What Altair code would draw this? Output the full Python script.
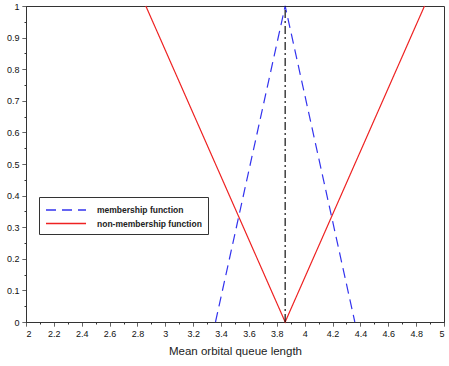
import altair as alt
import pandas as pd

# Data
memb_x = [3.36, 3.86, 4.36]
memb_y = [0.0, 1.0, 0.0]
nonmemb_x = [2.86, 3.86, 4.86]
nonmemb_y = [1.0, 0.0, 1.0]
vline_x = [3.86, 3.86]
vline_y = [0.0, 1.0]
series_names = ["membership function", "non-membership function"]
vline_name = "peak"
x_ticks = [round(2 + 0.1 * i, 1) for i in range(31)]
y_ticks = [round(0.05 * i, 2) for i in range(21)]

rows = []
for name, xs, ys in [(series_names[0], memb_x, memb_y),
                     (series_names[1], nonmemb_x, nonmemb_y),
                     (vline_name, vline_x, vline_y)]:
    for i, (x, y) in enumerate(zip(xs, ys)):
        rows.append({"x": x, "y": y, "series": name, "order": i})
df = pd.DataFrame(rows)

all_names = series_names + [vline_name]

xaxis = alt.Axis(
    values=x_ticks,
    labelExpr="round(datum.value*10)%2==0 ? format(datum.value, '~g') : ''",
    ticks=True,
    tickSize=4,
    tickWidth=1,
    tickColor="#333333",
    tickDash={"condition": {"test": "round(datum.value*10)%2==0", "value": [1, 0]}, "value": [2, 10]},
    title="Mean orbital queue length",
    titleFont="Liberation Sans",
    titleFontWeight="normal",
    titleFontSize=11.5,
    titleColor="#222222",
    grid=False,
    labelPadding=3,
    titlePadding=7,
    labelOverlap=False,
)
yaxis = alt.Axis(
    values=y_ticks,
    labelExpr="round(datum.value*20)%2==0 ? format(datum.value, '~g') : ''",
    ticks=True,
    tickSize=4,
    tickWidth=1,
    tickColor="#333333",
    tickDash={"condition": {"test": "round(datum.value*20)%2==0", "value": [1, 0]}, "value": [2, 10]},
    title=None,
    grid=False,
    labelPadding=3,
    labelOverlap=False,
)

chart = alt.Chart(df).mark_line(strokeWidth=1.2).encode(
    x=alt.X("x:Q", scale=alt.Scale(domain=[2, 5], nice=False, zero=False), axis=xaxis),
    y=alt.Y("y:Q", scale=alt.Scale(domain=[0, 1], nice=False, zero=False), axis=yaxis),
    color=alt.Color(
        "series:N",
        scale=alt.Scale(domain=all_names, range=["#3333ee", "#ee2222", "#111111"]),
        legend=alt.Legend(
            title=None,
            values=series_names,
            orient="none",
            legendX=13,
            legendY=191,
            symbolType="M-1,0H5.67",
            symbolSize=144,
            symbolStrokeWidth=1.3,
            strokeColor="#333333",
            fillColor="white",
            padding=6,
            labelFontSize=8.5,
            labelFont="Liberation Sans",
            labelFontWeight="bold",
            labelColor="#222222",
            labelOffset=38,
            rowPadding=1.5,
        ),
    ),
    strokeDash=alt.StrokeDash(
        "series:N",
        scale=alt.Scale(domain=all_names, range=[[10, 6], [1, 0], [8, 3, 2, 3]]),
        legend=None,
    ),
    order="order:Q",
).properties(
    width=418,
    height=316,
    background="white",
    autosize=alt.AutoSizeParams(type="none"),
    padding={"left": 26, "top": 6, "right": 5, "bottom": 44},
).configure_view(
    stroke="#333333", strokeWidth=1
).configure_axis(
    domainColor="#333333",
    labelColor="#111111",
    labelFont="Liberation Sans",
    labelFontSize=9,
    labelFontWeight="normal",
)

chart.save("out.html", embed_options={"renderer": "svg", "actions": False})
